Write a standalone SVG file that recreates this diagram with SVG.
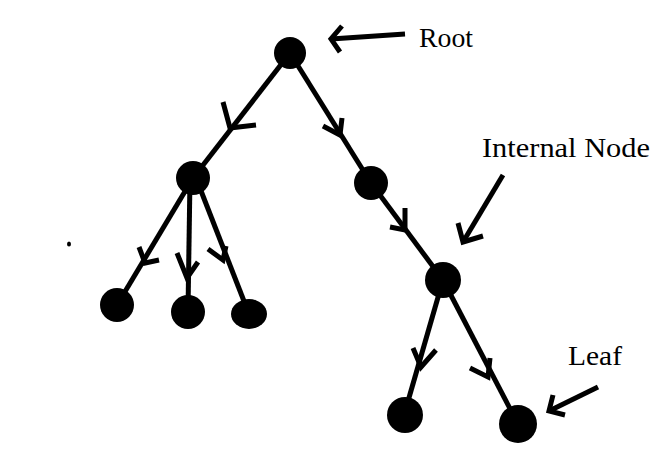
<svg xmlns="http://www.w3.org/2000/svg" width="666" height="470" viewBox="0 0 666 470">
<style>
.n{fill:#000}
.e{stroke:#000;stroke-width:5;fill:none;stroke-linecap:butt;stroke-linejoin:miter}
.t{font-family:"Liberation Serif","DejaVu Serif",serif;font-size:26.5px;fill:#000}
</style>
<rect width="666" height="470" fill="#fff"/>
<g id="connectors">
<line class="e" x1="290" y1="53" x2="193" y2="178"/>
<polyline class="e" points="223,102 230,128 256,125"/>
<line class="e" x1="290" y1="53" x2="371" y2="183"/>
<polyline class="e" points="323,126 340,135 342,118"/>
<line class="e" x1="193" y1="178" x2="117" y2="305"/>
<polyline class="e" points="139,247 145,263 159,260"/>
<line class="e" x1="190" y1="178" x2="188" y2="311"/>
<polyline class="e" points="177,253 187,278 198,262"/>
<line class="e" x1="196" y1="178" x2="249" y2="314"/>
<polyline class="e" points="208,249 223,260 226,246"/>
<line class="e" x1="371" y1="183" x2="443" y2="280"/>
<polyline class="e" points="390,227 405,230 405,208"/>
<line class="e" x1="443" y1="280" x2="404" y2="415"/>
<polyline class="e" points="413,348 421,367 436,350"/>
<line class="e" x1="443" y1="280" x2="518" y2="424"/>
<polyline class="e" points="470,368 488,377 490,358"/>
<line class="e" x1="405" y1="34" x2="331" y2="39"/>
<polyline class="e" points="342,26 331,39 340,52"/>
<line class="e" x1="503" y1="175" x2="463" y2="242"/>
<polyline class="e" points="458,223 463,242 483,236"/>
<line class="e" x1="598" y1="387" x2="549" y2="411"/>
<polyline class="e" points="553,395 549,411 565,415"/>
</g>
<g id="root"><circle class="n" cx="290" cy="53" r="16"/></g>
<g id="nodeA"><circle class="n" cx="193" cy="178" r="17"/></g>
<g id="nodeB"><circle class="n" cx="371" cy="183" r="17"/></g>
<g id="nodeC"><circle class="n" cx="443" cy="280" r="18"/></g>
<g id="leaf1"><circle class="n" cx="117" cy="305" r="17"/></g>
<g id="leaf2"><circle class="n" cx="188" cy="312" r="17"/></g>
<g id="leaf3"><ellipse class="n" cx="249" cy="314" rx="18" ry="15"/></g>
<g id="leaf4"><circle class="n" cx="405" cy="415" r="18"/></g>
<g id="leaf5"><circle class="n" cx="518" cy="424" r="19"/></g>
<ellipse class="n" cx="69" cy="244" rx="2" ry="2.5"/>
<g id="labels">
<text class="t" x="419" y="47" textLength="54" lengthAdjust="spacingAndGlyphs">Root</text>
<text class="t" x="482" y="157" textLength="168" lengthAdjust="spacingAndGlyphs">Internal Node</text>
<text class="t" x="568" y="365" textLength="54" lengthAdjust="spacingAndGlyphs">Leaf</text>
</g>
</svg>
